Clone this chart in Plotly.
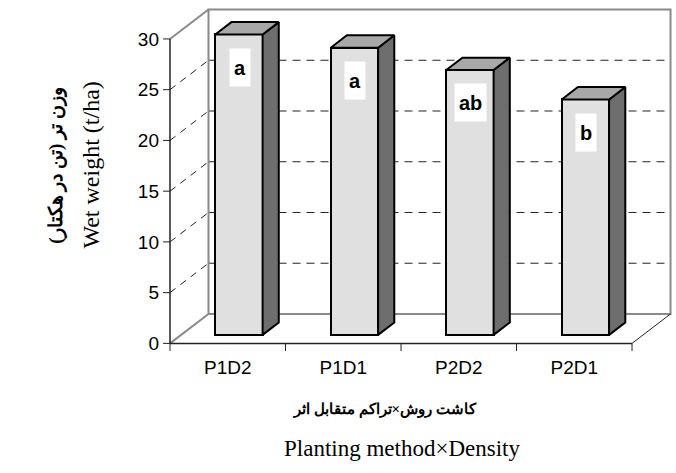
import plotly.graph_objects as go

# ---- data ----
categories = ["P1D2", "P1D1", "P2D2", "P2D1"]
wet_weight = [29.6, 28.3, 26.1, 23.2]
letters = ["a", "a", "ab", "b"]
y_ticks = [0, 5, 10, 15, 20, 25, 30]

# ---- 3D look parameters (category / value units) ----
DX, DY = 1 / 3, 2.9          # depth vector of the floor
F0, FD = 0.29, 0.42          # bar front depth fraction, bar depth fraction
BW = 0.41                    # bar width (category units)
YMAX = 30
xs = list(range(len(categories)))
x_lo, x_hi = -0.5, len(categories) - 0.5

FRONT = "#e2e2e2"
SIDE = "#6e6e6e"
TOP = "#a8a8a8"
GRAY = "#8a8a8a"

fig = go.Figure()

# front faces of bars
fig.add_trace(go.Bar(
    x=[x + F0 * DX for x in xs], y=wet_weight, base=F0 * DY, width=BW,
    marker=dict(color=FRONT, line=dict(color="black", width=2),
                pattern=dict(shape="|", fgcolor="#d2d2d2", size=2, solidity=0.3)),
    hoverinfo="skip", showlegend=False))

# side and top faces
for x, v in zip(xs, wet_weight):
    xl = x + F0 * DX - BW / 2
    xr = x + F0 * DX + BW / 2
    b0 = F0 * DY
    t0 = b0 + v
    ddx, ddy = FD * DX, FD * DY
    fig.add_trace(go.Scatter(
        x=[xr, xr + ddx, xr + ddx, xr, xr], y=[b0, b0 + ddy, t0 + ddy, t0, b0],
        fill="toself", fillcolor=SIDE, mode="lines",
        line=dict(color="black", width=2), hoverinfo="skip", showlegend=False))
    fig.add_trace(go.Scatter(
        x=[xl, xr, xr + ddx, xl + ddx, xl], y=[t0, t0, t0 + ddy, t0 + ddy, t0],
        fill="toself", fillcolor=TOP, mode="lines",
        line=dict(color="black", width=2), hoverinfo="skip", showlegend=False))

shapes = []
# dashed gridlines on left wall and back wall
for v in y_ticks[1:-1]:
    shapes.append(dict(type="line", xref="x", yref="y", layer="below",
                       x0=x_lo, y0=v, x1=x_lo + DX, y1=v + DY,
                       line=dict(color="#222222", width=1, dash="7px,6px")))
    shapes.append(dict(type="line", xref="x", yref="y", layer="below",
                       x0=x_lo + DX, y0=v + DY, x1=x_hi + DX, y1=v + DY,
                       line=dict(color="#222222", width=1, dash="8px,6px")))
# back wall outline
shapes.append(dict(type="rect", xref="x", yref="y", layer="below",
                   x0=x_lo + DX, y0=DY, x1=x_hi + DX, y1=YMAX + DY,
                   line=dict(color=GRAY, width=2)))
# left wall top edge and floor left edge
shapes.append(dict(type="line", xref="x", yref="y", layer="below",
                   x0=x_lo, y0=YMAX, x1=x_lo + DX, y1=YMAX + DY,
                   line=dict(color=GRAY, width=2)))
shapes.append(dict(type="line", xref="x", yref="y", layer="below",
                   x0=x_lo, y0=0, x1=x_lo + DX, y1=DY,
                   line=dict(color=GRAY, width=2)))
# floor right edge
shapes.append(dict(type="line", xref="x", yref="y", layer="below",
                   x0=x_hi, y0=0, x1=x_hi + DX, y1=DY,
                   line=dict(color="#222222", width=1)))
# front axis lines
shapes.append(dict(type="line", xref="x", yref="y",
                   x0=x_lo, y0=0, x1=x_lo, y1=YMAX,
                   line=dict(color="#222222", width=1.5)))
shapes.append(dict(type="line", xref="x", yref="y",
                   x0=x_lo, y0=0, x1=x_hi, y1=0,
                   line=dict(color="#222222", width=1.5)))
# y tick marks
for v in y_ticks:
    shapes.append(dict(type="line", xref="x", yref="y",
                       x0=x_lo - 0.06, y0=v, x1=x_lo, y1=v,
                       line=dict(color="#222222", width=1)))
# x tick marks (category boundaries)
for i in range(len(categories) + 1):
    shapes.append(dict(type="line", xref="x", yref="y",
                       x0=x_lo + i, y0=0, x1=x_lo + i, y1=-0.75,
                       line=dict(color="#222222", width=1)))

annotations = []
for x, v, t in zip(xs, wet_weight, letters):
    annotations.append(dict(
        x=x + F0 * DX, y=v + F0 * DY, xref="x", yref="y", text=t,
        showarrow=False, yanchor="middle", yshift=-33, xshift=1,
        bgcolor="white", borderpad=4, height=29,
        font=dict(family="Liberation Sans, Arial", size=20, color="black", weight="bold")))

# Persian axis title as printed in the original (words laid out left to right)
persian_x = "کاشت روش×تراکم متقابل اثر"
annotations += [
    dict(text=persian_x, xref="paper", yref="paper", x=0.4335, y=-0.172,
         showarrow=False, xanchor="center", yanchor="middle",
         font=dict(family="Liberation Serif, DejaVu Serif", size=15, color="black", weight="bold")),
    dict(text="Planting method×Density", xref="paper", yref="paper", x=0.4677, y=-0.2857,
         showarrow=False, xanchor="center", yanchor="middle",
         font=dict(family="Liberation Serif, Times New Roman", size=23, color="black")),
    dict(text="وزن تر (تن در هکتار)", xref="paper", yref="paper", x=-0.21, y=0.542,
         showarrow=False, xanchor="center", yanchor="middle", textangle=-90,
         font=dict(family="Liberation Serif, DejaVu Serif", size=19, color="black", weight="bold")),
    dict(text="Wet weight (t/ha)", xref="paper", yref="paper", x=-0.14, y=0.542,
         showarrow=False, xanchor="center", yanchor="middle", textangle=-90,
         font=dict(family="Liberation Serif, Times New Roman", size=24, color="black")),
]

fig.update_layout(
    width=676, height=473,
    margin=dict(l=163, r=2, t=8, b=122),
    paper_bgcolor="white", plot_bgcolor="white",
    showlegend=False, bargap=0,
    shapes=shapes, annotations=annotations,
    xaxis=dict(range=[x_lo - 0.0606, x_hi + DX + 0.03], tickvals=xs, ticktext=categories,
               ticks="", showgrid=False, zeroline=False, showline=False,
               ticklabelstandoff=3,
               tickfont=dict(family="Liberation Sans, Arial", size=19, color="black")),
    yaxis=dict(range=[-0.75, YMAX + DY + 0.15], tickvals=y_ticks,
               ticks="", showgrid=False, zeroline=False, showline=False,
               ticklabelstandoff=3,
               tickfont=dict(family="Liberation Sans, Arial", size=19, color="black")),
)

fig.write_html("out.html")
